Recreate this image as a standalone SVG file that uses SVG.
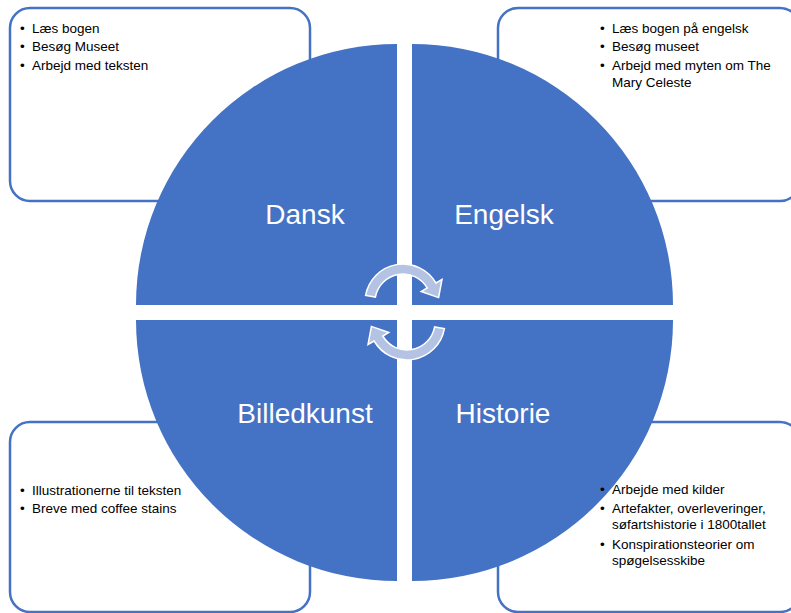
<svg xmlns="http://www.w3.org/2000/svg" width="791" height="613" viewBox="0 0 791 613">
<defs>
<style>
.box{fill:#fff;stroke:#4472C4;stroke-width:2.5}
.q{fill:#4472C4}
.t{font-family:"Liberation Sans",Arial,sans-serif;font-size:13.5px;fill:#000}
.lbl{font-family:"Liberation Sans",Arial,sans-serif;font-size:28px;fill:#fff;text-anchor:middle}
.arr{fill:#B4C3E3;stroke:#fff;stroke-width:1.5}
</style>
<path id="carrow" d="M365.6,295.4 A38,38 0 0 1 435.9,283 L442,279.5 L438.6,297.6 L421.2,291.5 L427.2,288 A28,28 0 0 0 375.4,297.1 Z"/>
</defs>
<rect width="791" height="613" fill="#fff"/>
<g id="box-dansk"><rect class="box" x="10" y="8" width="300" height="193" rx="20"/>
<text class="t" x="20" y="33">•</text><text class="t" x="32" y="33">Læs bogen</text>
<text class="t" x="20" y="51">•</text><text class="t" x="32" y="51">Besøg Museet</text>
<text class="t" x="20" y="70">•</text><text class="t" x="32" y="70">Arbejd med teksten</text></g>
<g id="box-engelsk"><rect class="box" x="498" y="8" width="302" height="193" rx="20"/>
<text class="t" x="600" y="33">•</text><text class="t" x="612" y="33">Læs bogen på engelsk</text>
<text class="t" x="600" y="51">•</text><text class="t" x="612" y="51">Besøg museet</text>
<text class="t" x="600" y="70">•</text><text class="t" x="612" y="70">Arbejd med myten om The</text>
<text class="t" x="612" y="87">Mary Celeste</text></g>
<g id="box-billedkunst"><rect class="box" x="10" y="422" width="300" height="190" rx="20"/>
<text class="t" x="20" y="495">•</text><text class="t" x="32" y="495">Illustrationerne til teksten</text>
<text class="t" x="20" y="513">•</text><text class="t" x="32" y="513">Breve med coffee stains</text></g>
<g id="box-historie"><rect class="box" x="498" y="422" width="302" height="190" rx="20"/></g>
<g id="dansk"><path class="q" d="M397,305 L136,305 A261,261 0 0 1 397,44 Z"/><text class="lbl" x="305" y="224">Dansk</text></g>
<g id="engelsk"><path class="q" d="M412,305 L412,44 A261,261 0 0 1 673,305 Z"/><text class="lbl" x="504" y="224">Engelsk</text></g>
<g id="billedkunst"><path class="q" d="M397,320 L397,581 A261,261 0 0 1 136,320 Z"/><text class="lbl" x="305" y="423">Billedkunst</text></g>
<g id="historie"><path class="q" d="M412,320 L673,320 A261,261 0 0 1 412,581 Z"/><text class="lbl" x="503" y="423">Historie</text></g>
<g id="historie-text">
<text class="t" x="600" y="494">•</text><text class="t" x="612" y="494">Arbejde med kilder</text>
<text class="t" x="600" y="513">•</text><text class="t" x="612" y="513">Artefakter, overleveringer,</text>
<text class="t" x="612" y="529">søfartshistorie i 1800tallet</text>
<text class="t" x="600" y="549">•</text><text class="t" x="612" y="549">Konspirationsteorier om</text>
<text class="t" x="612" y="565">spøgelsesskibe</text></g>
<g id="connectors">
<use href="#carrow" class="arr"/>
<use href="#carrow" class="arr" transform="rotate(180 405 312)"/>
</g>
</svg>
